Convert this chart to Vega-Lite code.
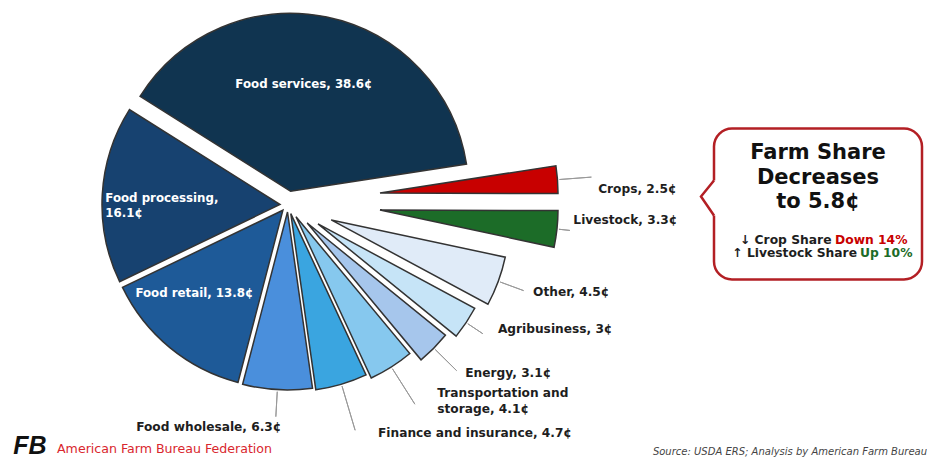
{
  "$schema": "https://vega.github.io/schema/vega-lite/v6.json",
  "padding": 0,
  "spacing": 138,
  "center": true,
  "bounds": "flush",
  "config": {"font": "DejaVu Sans", "view": {"stroke": null}},
  "hconcat": [
    {
      "width": 576,
      "height": 408,
      "view": {"stroke": null},
      "data": {"values": [
        {"order": 1, "item": "Crops", "sector": "Farm", "value": 2.5, "label": "Crops, 2.5¢"},
        {"order": 2, "item": "Livestock", "sector": "Farm", "value": 3.3, "label": "Livestock, 3.3¢"},
        {"order": 3, "item": "Other", "sector": "Marketing", "value": 4.5, "label": "Other, 4.5¢"},
        {"order": 4, "item": "Agribusiness", "sector": "Marketing", "value": 3, "label": "Agribusiness, 3¢"},
        {"order": 5, "item": "Energy", "sector": "Marketing", "value": 3.1, "label": "Energy, 3.1¢"},
        {"order": 6, "item": "Transportation and storage", "sector": "Marketing", "value": 4.1, "label": "Transportation and\nstorage, 4.1¢"},
        {"order": 7, "item": "Finance and insurance", "sector": "Marketing", "value": 4.7, "label": "Finance and insurance, 4.7¢"},
        {"order": 8, "item": "Food wholesale", "sector": "Marketing", "value": 6.3, "label": "Food wholesale, 6.3¢"},
        {"order": 9, "item": "Food retail", "sector": "Marketing", "value": 13.8, "label": "Food retail, 13.8¢"},
        {"order": 10, "item": "Food processing", "sector": "Marketing", "value": 16.1, "label": "Food processing,\n16.1¢"},
        {"order": 11, "item": "Food services", "sector": "Marketing", "value": 38.6, "label": "Food services, 38.6¢"}
      ]},
      "layer": [
        {
          "transform": [{"stack": "value", "groupby": [], "sort": [{"field": "order", "order": "ascending"}], "as": ["v0", "v1"]}],
          "layer": [
            {"transform": [{"filter": "datum.item === 'Crops'"}], "layer": [
              {"mark": {"type": "arc", "radius": 178, "stroke": "#333333", "strokeWidth": 1.5, "xOffset": 92, "yOffset": -11},
               "encoding": {"theta": {"field": "v0", "type": "quantitative", "stack": null, "scale": {"domain": [0, 100], "range": [1.4172, 7.7004]}}, "theta2": {"field": "v1"},
                 "color": {"field": "item", "type": "nominal", "legend": null, "scale": {"domain": ["Crops", "Livestock", "Other", "Agribusiness", "Energy", "Transportation and storage", "Finance and insurance", "Food wholesale", "Food retail", "Food processing", "Food services"], "range": ["#c80000", "#1c6c28", "#e0ebf8", "#c6e4f7", "#a6c6ec", "#86c8ee", "#3aa5e0", "#4a8fdc", "#1e5a98", "#174270", "#103450"]}}}},
              {"mark": {"type": "arc", "radius": 212, "radius2": 180, "padAngle": 3.14, "filled": false, "stroke": "#999999", "strokeWidth": 1, "xOffset": 92, "yOffset": -11},
               "encoding": {"theta": {"field": "v0", "type": "quantitative", "stack": null}, "theta2": {"field": "v1"}}}
            ]},
            {"transform": [{"filter": "datum.item === 'Livestock'"}], "layer": [
              {"mark": {"type": "arc", "radius": 178, "stroke": "#333333", "strokeWidth": 1.5, "xOffset": 92, "yOffset": 6},
               "encoding": {"theta": {"field": "v0", "type": "quantitative", "stack": null}, "theta2": {"field": "v1"}, "color": {"field": "item", "type": "nominal", "legend": null}}},
              {"mark": {"type": "arc", "radius": 191, "radius2": 180, "padAngle": 3.14, "filled": false, "stroke": "#999999", "strokeWidth": 1, "xOffset": 92, "yOffset": 6},
               "encoding": {"theta": {"field": "v0", "type": "quantitative", "stack": null}, "theta2": {"field": "v1"}}}
            ]},
            {"transform": [{"filter": "datum.item === 'Other'"}], "layer": [
              {"mark": {"type": "arc", "radius": 178, "stroke": "#333333", "strokeWidth": 1.5, "xOffset": 43.2, "yOffset": 15.9},
               "encoding": {"theta": {"field": "v0", "type": "quantitative", "stack": null}, "theta2": {"field": "v1"}, "color": {"field": "item", "type": "nominal", "legend": null}}},
              {"mark": {"type": "arc", "radius": 205, "radius2": 180, "padAngle": 3.14, "filled": false, "stroke": "#999999", "strokeWidth": 1, "xOffset": 43.2, "yOffset": 15.9},
               "encoding": {"theta": {"field": "v0", "type": "quantitative", "stack": null}, "theta2": {"field": "v1"}}}
            ]},
            {"transform": [{"filter": "datum.item === 'Agribusiness'"}], "layer": [
              {"mark": {"type": "arc", "radius": 178, "stroke": "#333333", "strokeWidth": 1.5, "xOffset": 30, "yOffset": 19.9},
               "encoding": {"theta": {"field": "v0", "type": "quantitative", "stack": null}, "theta2": {"field": "v1"}, "color": {"field": "item", "type": "nominal", "legend": null}}},
              {"mark": {"type": "arc", "radius": 198, "radius2": 180, "padAngle": 3.14, "filled": false, "stroke": "#999999", "strokeWidth": 1, "xOffset": 30, "yOffset": 19.9},
               "encoding": {"theta": {"field": "v0", "type": "quantitative", "stack": null}, "theta2": {"field": "v1"}}}
            ]},
            {"transform": [{"filter": "datum.item === 'Energy'"}], "layer": [
              {"mark": {"type": "arc", "radius": 178, "stroke": "#333333", "strokeWidth": 1.5, "xOffset": 19.2, "yOffset": 19},
               "encoding": {"theta": {"field": "v0", "type": "quantitative", "stack": null}, "theta2": {"field": "v1"}, "color": {"field": "item", "type": "nominal", "legend": null}}},
              {"mark": {"type": "arc", "radius": 210, "radius2": 180, "padAngle": 3.14, "filled": false, "stroke": "#999999", "strokeWidth": 1, "xOffset": 19.2, "yOffset": 19},
               "encoding": {"theta": {"field": "v0", "type": "quantitative", "stack": null}, "theta2": {"field": "v1"}}}
            ]},
            {"transform": [{"filter": "datum.item === 'Transportation and storage'"}], "layer": [
              {"mark": {"type": "arc", "radius": 178, "stroke": "#333333", "strokeWidth": 1.5, "xOffset": 8, "yOffset": 12.7},
               "encoding": {"theta": {"field": "v0", "type": "quantitative", "stack": null}, "theta2": {"field": "v1"}, "color": {"field": "item", "type": "nominal", "legend": null}}},
              {"mark": {"type": "arc", "radius": 222, "radius2": 180, "padAngle": 3.14, "filled": false, "stroke": "#999999", "strokeWidth": 1, "xOffset": 8, "yOffset": 12.7},
               "encoding": {"theta": {"field": "v0", "type": "quantitative", "stack": null}, "theta2": {"field": "v1"}}}
            ]},
            {"transform": [{"filter": "datum.item === 'Finance and insurance'"}], "layer": [
              {"mark": {"type": "arc", "radius": 178, "stroke": "#333333", "strokeWidth": 1.5, "xOffset": 2.8, "yOffset": 9.6},
               "encoding": {"theta": {"field": "v0", "type": "quantitative", "stack": null}, "theta2": {"field": "v1"}, "color": {"field": "item", "type": "nominal", "legend": null}}},
              {"mark": {"type": "arc", "radius": 226, "radius2": 180, "padAngle": 3.14, "filled": false, "stroke": "#999999", "strokeWidth": 1, "xOffset": 2.8, "yOffset": 9.6},
               "encoding": {"theta": {"field": "v0", "type": "quantitative", "stack": null}, "theta2": {"field": "v1"}}}
            ]},
            {"transform": [{"filter": "datum.item === 'Food wholesale'"}], "layer": [
              {"mark": {"type": "arc", "radius": 178, "stroke": "#333333", "strokeWidth": 1.5, "xOffset": -0.5, "yOffset": 8},
               "encoding": {"theta": {"field": "v0", "type": "quantitative", "stack": null}, "theta2": {"field": "v1"}, "color": {"field": "item", "type": "nominal", "legend": null}}},
              {"mark": {"type": "arc", "radius": 205, "radius2": 180, "padAngle": 3.14, "filled": false, "stroke": "#999999", "strokeWidth": 1, "xOffset": -0.5, "yOffset": 8},
               "encoding": {"theta": {"field": "v0", "type": "quantitative", "stack": null}, "theta2": {"field": "v1"}}}
            ]},
            {"transform": [{"filter": "datum.item === 'Food retail'"}], "layer": [
              {"mark": {"type": "arc", "radius": 178, "stroke": "#333333", "strokeWidth": 1.5, "xOffset": -5.1, "yOffset": 6.2},
               "encoding": {"theta": {"field": "v0", "type": "quantitative", "stack": null}, "theta2": {"field": "v1"}, "color": {"field": "item", "type": "nominal", "legend": null}}}
            ]},
            {"transform": [{"filter": "datum.item === 'Food processing'"}], "layer": [
              {"mark": {"type": "arc", "radius": 178, "stroke": "#333333", "strokeWidth": 1.5, "xOffset": -8, "yOffset": 0.5},
               "encoding": {"theta": {"field": "v0", "type": "quantitative", "stack": null}, "theta2": {"field": "v1"}, "color": {"field": "item", "type": "nominal", "legend": null}}}
            ]},
            {"transform": [{"filter": "datum.item === 'Food services'"}], "layer": [
              {"mark": {"type": "arc", "radius": 178, "stroke": "#333333", "strokeWidth": 1.5, "xOffset": 2.6, "yOffset": -12.7},
               "encoding": {"theta": {"field": "v0", "type": "quantitative", "stack": null}, "theta2": {"field": "v1"}, "color": {"field": "item", "type": "nominal", "legend": null}}}
            ]}
          ]
        },
        {
          "transform": [
            {"stack": "value", "groupby": [], "sort": [{"field": "order", "order": "ascending"}], "as": ["v0", "v1"]},
            {"fold": ["v0", "v1"], "as": ["edge", "angle"]},
            {"aggregate": [{"op": "mean", "field": "angle", "as": "mid"}], "groupby": ["item", "label"]}
          ],
          "encoding": {"theta": {"field": "mid", "type": "quantitative"}, "text": {"field": "label"}},
          "layer": [
            {"transform": [{"filter": "datum.item === 'Food services'"}],
             "mark": {"type": "text", "radius": 122, "align": "center", "baseline": "middle", "dx": -9, "dy": -1, "fontWeight": "bold", "fontSize": 11.8, "color": "#ffffff"}},
            {"transform": [{"filter": "datum.item === 'Food processing'"}],
             "mark": {"type": "text", "radius": 183, "align": "left", "baseline": "middle", "dx": 0, "dy": 4.5, "lineBreak": "\n", "lineHeight": 15, "fontWeight": "bold", "fontSize": 11.8, "color": "#ffffff"}},
            {"transform": [{"filter": "datum.item === 'Food retail'"}],
             "mark": {"type": "text", "radius": 130, "align": "left", "baseline": "middle", "dx": -70, "dy": -11, "fontWeight": "bold", "fontSize": 11.8, "color": "#ffffff"}},
            {"transform": [{"filter": "datum.item === 'Food wholesale'"}],
             "mark": {"type": "text", "radius": 223, "align": "right", "baseline": "middle", "dx": 6, "dy": 0, "fontWeight": "bold", "fontSize": 12.2, "color": "#1e1e1e"}},
            {"transform": [{"filter": "datum.item === 'Finance and insurance'"}],
             "mark": {"type": "text", "radius": 246, "align": "left", "baseline": "middle", "dx": 20, "dy": -7, "fontWeight": "bold", "fontSize": 12.2, "color": "#1e1e1e"}},
            {"transform": [{"filter": "datum.item === 'Transportation and storage'"}],
             "mark": {"type": "text", "radius": 247, "align": "left", "baseline": "middle", "dx": 17, "dy": -20, "lineBreak": "\n", "lineHeight": 16, "fontWeight": "bold", "fontSize": 12.2, "color": "#1e1e1e"}},
            {"transform": [{"filter": "datum.item === 'Energy'"}],
             "mark": {"type": "text", "radius": 245, "align": "left", "baseline": "middle", "dx": 3, "dy": -3, "fontWeight": "bold", "fontSize": 12.2, "color": "#1e1e1e"}},
            {"transform": [{"filter": "datum.item === 'Agribusiness'"}],
             "mark": {"type": "text", "radius": 245, "align": "left", "baseline": "middle", "dx": 6, "dy": -11, "fontWeight": "bold", "fontSize": 12.2, "color": "#1e1e1e"}},
            {"transform": [{"filter": "datum.item === 'Other'"}],
             "mark": {"type": "text", "radius": 260, "align": "left", "baseline": "middle", "dx": 1, "dy": -2, "fontWeight": "bold", "fontSize": 12.2, "color": "#1e1e1e"}},
            {"transform": [{"filter": "datum.item === 'Livestock'"}],
             "mark": {"type": "text", "radius": 286, "align": "left", "baseline": "middle", "dx": 1, "dy": -15, "fontWeight": "bold", "fontSize": 12.2, "color": "#1e1e1e"}},
            {"transform": [{"filter": "datum.item === 'Crops'"}],
             "mark": {"type": "text", "radius": 310, "align": "left", "baseline": "middle", "dx": 1, "dy": 8, "fontWeight": "bold", "fontSize": 12.2, "color": "#1e1e1e"}}
          ]
        },
        {"data": {"values": [{"part": "logo", "text": "FB"}, {"part": "org", "text": "American Farm Bureau Federation"}]},
         "layer": [
           {"transform": [{"filter": "datum.part === 'logo'"}],
            "mark": {"type": "text", "align": "center", "baseline": "middle", "dx": -258, "dy": 242, "font": "Liberation Sans", "fontStyle": "italic", "fontWeight": "bold", "fontSize": 25, "color": "#111111"},
            "encoding": {"text": {"field": "text"}}},
           {"transform": [{"filter": "datum.part === 'org'"}],
            "mark": {"type": "text", "align": "left", "baseline": "middle", "dx": -231, "dy": 245, "font": "DejaVu Sans", "fontWeight": "normal", "fontSize": 12.6, "color": "#d9272e"},
            "encoding": {"text": {"field": "text"}}}
         ]}
      ]
    },
    {
      "width": 208,
      "height": 151,
      "view": {"stroke": "#b31f24", "strokeWidth": 2.5, "cornerRadius": 18, "fill": "#ffffff"},
      "title": {"text": "Source: USDA ERS; Analysis by American Farm Bureau", "orient": "bottom", "anchor": "end", "frame": "group", "offset": 167, "dx": 5, "color": "#444444", "fontSize": 10, "fontWeight": "normal", "fontStyle": "italic", "font": "DejaVu Sans"},
      "data": {"values": [
        {"key": "heading", "label": "Farm Share\nDecreases\nto 5.8¢"},
        {"key": "crop", "label": "↓ Crop Share", "change": "Down 14%"},
        {"key": "livestock", "label": "↑ Livestock Share", "change": "Up 10%"}
      ]},
      "layer": [
        {"transform": [{"filter": "datum.key === 'heading'"}],
         "mark": {"type": "point", "shape": "M 0.25 -0.875 L 0 -0.875 L -0.65 -0.075 L 0 0.875 L 0.25 0.875 Z", "size": 1600, "filled": true, "fill": "#ffffff", "opacity": 1, "strokeWidth": 0, "yOffset": -6},
         "encoding": {"x": {"value": 0}}},
        {"transform": [{"filter": "datum.key === 'heading'"}],
         "mark": {"type": "point", "shape": "M 0 -0.875 L -0.65 -0.075 L 0 0.875", "size": 1600, "filled": false, "stroke": "#b31f24", "strokeWidth": 2.5, "opacity": 1, "yOffset": -6},
         "encoding": {"x": {"value": 0}}},
        {"transform": [{"filter": "datum.key === 'heading'"}],
         "mark": {"type": "text", "align": "center", "baseline": "middle", "dy": -51, "lineBreak": "\n", "lineHeight": 24.5, "fontWeight": "bold", "fontSize": 21, "color": "#111111"},
         "encoding": {"text": {"field": "label"}}},
        {"transform": [{"filter": "datum.key === 'crop'"}],
         "mark": {"type": "text", "align": "right", "baseline": "middle", "dx": 13.5, "dy": 35.5, "fontWeight": "bold", "fontSize": 12.3, "color": "#1e1e1e"},
         "encoding": {"text": {"field": "label"}}},
        {"transform": [{"filter": "datum.key === 'crop'"}],
         "mark": {"type": "text", "align": "left", "baseline": "middle", "dx": 17, "dy": 35.5, "fontWeight": "bold", "fontSize": 12.3},
         "encoding": {"text": {"field": "change"}, "color": {"field": "key", "type": "nominal", "legend": null, "scale": {"domain": ["crop", "livestock"], "range": ["#d0262c", "#2f8a3c"]}}}},
        {"transform": [{"filter": "datum.key === 'livestock'"}],
         "mark": {"type": "text", "align": "right", "baseline": "middle", "dx": 39, "dy": 48.5, "fontWeight": "bold", "fontSize": 12.3, "color": "#1e1e1e"},
         "encoding": {"text": {"field": "label"}}},
        {"transform": [{"filter": "datum.key === 'livestock'"}],
         "mark": {"type": "text", "align": "left", "baseline": "middle", "dx": 42, "dy": 48.5, "fontWeight": "bold", "fontSize": 12.3},
         "encoding": {"text": {"field": "change"}, "color": {"field": "key", "type": "nominal", "legend": null}}}
      ]
    }
  ]
}
